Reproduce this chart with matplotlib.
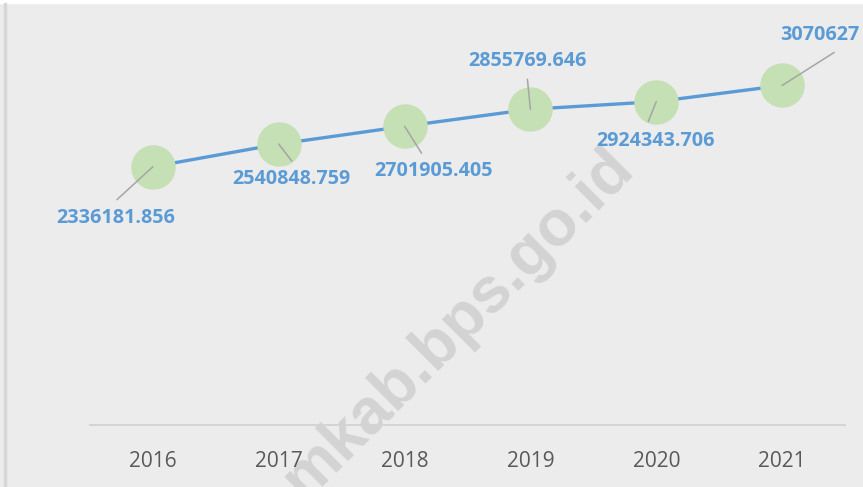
import matplotlib.pyplot as plt
from matplotlib.patches import Rectangle

plt.rcParams["font.family"] = ["Open Sans", "DejaVu Sans"]

# data
years = ["2016", "2017", "2018", "2019", "2020", "2021"]
values = [2336181.856, 2540848.759, 2701905.405, 2855769.646, 2924343.706, 3070627]
labels = ["2336181.856", "2540848.759", "2701905.405", "2855769.646", "2924343.706", "3070627"]

# label placement (pixels from the point) and leader line ends
label_off = [(-37, -51), (13, -35), (29, -45), (-3, 48), (-1, -39), (38, 50)]
leader_end = [(-36, -33), (13, -17), (17, -27), (-3, 30), (-8, -20), (52, 33)]

bg = "#ECECEC"
blue = "#5B9BD5"
green = "#C5E0B4"

W, H = 863, 487
fig = plt.figure(figsize=(W / 100, H / 100), dpi=100, facecolor=bg)
ax = fig.add_axes([90 / W, 1 - 425 / H, 755 / W, (425 - 38) / H])
ax.set_facecolor("none")

# thin frame bits seen on the screenshot edges
fig.patches.append(Rectangle((0, 1 - 3 / H), 1, 3 / H, transform=fig.transFigure,
                             color="white", zorder=-2))
fig.patches.append(Rectangle((4 / W, 0), 2 / W, 1 - 3 / H, transform=fig.transFigure,
                             color="#D6D6D6", zorder=-2))

# watermark (runs off the bottom edge, as in the source)
fig.text(636 / W, 1 - 170 / H, "mkab.bps.go.id", rotation=45, rotation_mode="anchor",
         ha="right", va="baseline", fontsize=46, fontweight="bold",
         color="#D3D3D3", family=["Liberation Sans", "DejaVu Sans"], zorder=-1)

x = list(range(len(years)))
ax.plot(x, values, color=blue, linewidth=2.4, marker="o", markersize=31,
        markerfacecolor=green, markeredgecolor=green, zorder=3)

for i, (v, lab) in enumerate(zip(values, labels)):
    ax.annotate("", xy=(i, v), xytext=leader_end[i], textcoords="offset pixels",
                arrowprops=dict(arrowstyle="-", color="#A5A5A5", lw=1.1,
                                shrinkA=0, shrinkB=0), zorder=4)
    ax.annotate(lab, xy=(i, v), xytext=label_off[i], textcoords="offset pixels",
                ha="center", va="center", fontsize=14.2, fontweight="bold",
                color=blue, zorder=5, annotation_clip=False)

ax.set_xlim(-0.5, len(years) - 0.5)
ax.set_ylim(0, 3500000)
ax.set_xticks(x)
ax.set_xticklabels(years, fontsize=15, color="#595959")
ax.set_yticks([])
ax.tick_params(axis="x", length=0, pad=19)
for s in ["top", "left", "right"]:
    ax.spines[s].set_visible(False)
ax.spines["bottom"].set_color("#D4D4D4")
ax.spines["bottom"].set_linewidth(1.4)

fig.savefig("out.png", dpi=100, facecolor=bg)
